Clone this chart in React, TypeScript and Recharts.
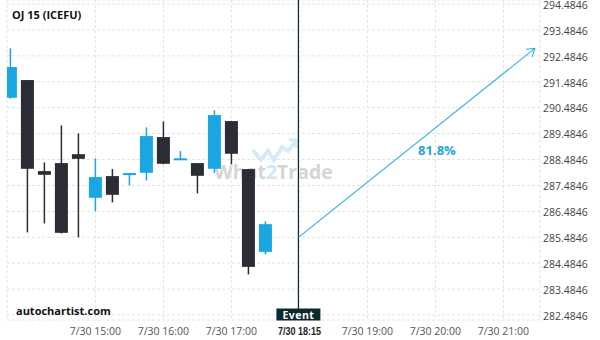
import { ComposedChart, Bar, XAxis, YAxis, CartesianGrid, ReferenceLine, ReferenceDot } from 'recharts';

// candles, 15 min apart, 7/30 13:45 .. 17:30
const times = ['13:45', '14:00', '14:15', '14:30', '14:45', '15:00', '15:15', '15:30', '15:45', '16:00', '16:15', '16:30', '16:45', '17:00', '17:15', '17:30'];
const opens = [290.867, 291.55, 288.037, 288.346, 288.69, 287.006, 287.844, 287.894, 287.971, 289.35, 288.51, 288.346, 288.126, 289.967, 288.114, 284.92];
const highs = [292.775, 291.55, 288.373, 289.8, 289.49, 288.527, 288.114, 287.96, 289.724, 289.956, 288.809, 288.346, 290.38, 289.967, 288.114, 286.095];
const lows = [290.829, 285.67, 286.017, 285.63, 285.48, 286.49, 286.829, 287.485, 287.678, 288.3, 288.5, 287.176, 287.971, 288.296, 284.048, 284.82];
const closes = [292.052, 288.126, 287.894, 285.655, 288.51, 287.805, 287.122, 287.96, 289.388, 288.319, 288.53, 287.855, 290.199, 288.705, 284.342, 285.99];

const tickSlots = [5, 9, 13, 17, 21, 25, 29];
const tickLabels = ['7/30 15:00', '7/30 16:00', '7/30 17:00', '7/30 18:15', '7/30 19:00', '7/30 20:00', '7/30 21:00'];
const yTicks = [282.4846, 283.4846, 284.4846, 285.4846, 286.4846, 287.4846, 288.4846, 289.4846, 290.4846, 291.4846, 292.4846, 293.4846, 294.4846];

const eventSlot = 16.94;
const projStart = { x: eventSlot, y: 285.477 };
const projEnd = { x: 30.85, y: 292.774 };
const probability = '81.8%';
const probAt = { x: 25.09, y: 288.82 };

const BLUE = '#1aa7e1';
const DARK = '#2c2c35';
const EVENT = '#0b2a2e';

const data = times.map((t, i) => ({
  slot: i,
  time: t,
  open: opens[i],
  high: highs[i],
  low: lows[i],
  close: closes[i],
}));

const Candle = (props: any) => {
  const { x, y, width, height, payload } = props;
  const { open, close, high, low } = payload;
  const ppu = height / (high - low);
  const top = y + (high - Math.max(open, close)) * ppu;
  const bot = y + (high - Math.min(open, close)) * ppu;
  const color = close >= open ? BLUE : DARK;
  const cx = x + width / 2;
  return (
    <g>
      <line x1={cx} x2={cx} y1={y} y2={y + height} stroke={color} strokeWidth={1.5} />
      <rect x={x} y={top} width={width} height={Math.max(bot - top, 2)} fill={color} />
    </g>
  );
};

const TimeTick = (props: any) => {
  const { x, y, payload } = props;
  const idx = tickSlots.indexOf(payload.value);
  const isEvent = payload.value === 17;
  if (isEvent) {
    return (
      <text
        x={x}
        y={y + 13}
        textAnchor="middle"
        fontSize={11}
        fontWeight={700}
        fontFamily='"Liberation Sans", Arial, sans-serif'
        fill="#222"
        textLength={43}
        lengthAdjust="spacingAndGlyphs"
      >
        {tickLabels[idx]}
      </text>
    );
  }
  return (
    <text x={x} y={y + 13} textAnchor="middle" fontSize={10.5} fontFamily='"Open Sans", sans-serif' fill="#555">
      {tickLabels[idx]}
    </text>
  );
};

const PriceTick = (props: any) => {
  const { x, y, payload } = props;
  return (
    <text x={x} y={y + 4.8} textAnchor="start" fontSize={10.5} fontFamily='"Open Sans", sans-serif' fill="#444">
      {payload.value.toFixed(4)}
    </text>
  );
};

const EventTag = (props: any) => {
  const vb = props.viewBox;
  const cx = vb.x;
  const bottom = vb.y + vb.height;
  return (
    <g>
      <rect x={cx - 22} y={bottom - 11.5} width={44} height={12} fill={EVENT} />
      <text x={cx} y={bottom - 1.5} textAnchor="middle" fontSize={10.5} fontWeight={700} fill="#fff" fontFamily='"Open Sans", sans-serif' letterSpacing={0.5}>
        Event
      </text>
    </g>
  );
};

const Arrow = (props: any) => {
  const { x1, y1, x2, y2 } = props;
  const ang = Math.atan2(y1 - y2, x1 - x2);
  const len = 9;
  const a1 = ang + 0.58;
  const a2 = ang - 0.58;
  return (
    <g stroke="#2eb0e6" strokeWidth={1.1} fill="none">
      <line x1={x1} y1={y1} x2={x2} y2={y2} />
      <polyline points={`${x2 + len * Math.cos(a1)},${y2 + len * Math.sin(a1)} ${x2},${y2} ${x2 + len * Math.cos(a2)},${y2 + len * Math.sin(a2)}`} />
    </g>
  );
};

const Watermark = () => (
  <svg width={600} height={340} style={{ position: 'absolute', left: 0, top: 0 }}>
    <polyline
      points="253,150 261,160 268,151 274,160 282,147 288,151 296,141"
      fill="none"
      stroke="#d4ebf8"
      strokeWidth={4}
      strokeLinejoin="miter"
    />
    <polyline points="289,140 297,140 296,148" fill="none" stroke="#d4ebf8" strokeWidth={3} />
    <text x={214} y={179} fontSize={19.5} fontWeight={700} fontFamily='"Open Sans", sans-serif' fill="#d5d5d5">
      What<tspan fill="#cde7f6">2</tspan>Trade
    </text>
  </svg>
);

export default function App() {
  return (
    <div style={{ position: 'relative', width: 600, height: 340, background: '#fff', overflow: 'hidden' }}>
      <style>{'body{margin:0}'}</style>
      <Watermark />
      <div style={{ position: 'absolute', left: 0, top: 0 }}>
        <ComposedChart width={600} height={340} data={data} margin={{ top: 0, right: 0, bottom: 0, left: 7 }}>
          <CartesianGrid stroke="#e4e4e4" strokeDasharray="3 2" />
          <XAxis
            type="number"
            dataKey="slot"
            domain={[-0.2, 31.15]}
            allowDataOverflow
            ticks={tickSlots}
            interval={0}
            tick={<TimeTick />}
            axisLine={false}
            tickLine={false}
            tickSize={0}
            height={20}
          />
          <YAxis
            orientation="right"
            type="number"
            domain={[282.2915, 294.639]}
            allowDataOverflow
            ticks={yTicks}
            interval={0}
            axisLine={false}
            tickLine={false}
            tickSize={0}
            tickMargin={3}
            width={60}
            tick={<PriceTick />}
          />
          <Bar dataKey={(d: any) => [d.low, d.high]} barSize={13} shape={<Candle />} isAnimationActive={false} />
          <ReferenceLine x={eventSlot} stroke={EVENT} strokeWidth={1.2} label={EventTag} ifOverflow="visible" />
          <ReferenceLine segment={[projStart, projEnd]} shape={Arrow} ifOverflow="visible" />
          <ReferenceDot
            x={probAt.x}
            y={probAt.y}
            r={0}
            fill="none"
            stroke="none"
            label={{ value: probability, position: 'center', fill: '#1fa6df', fontSize: 13, fontWeight: 700, fontFamily: '"Open Sans", sans-serif' }}
          />
        </ComposedChart>
      </div>
      <div style={{ position: 'absolute', left: 12, top: 7, fontFamily: '"Open Sans", sans-serif', fontWeight: 700, fontSize: 11, color: '#111' }}>
        OJ 15 (ICEFU)
      </div>
      <div style={{ position: 'absolute', left: 16, top: 303, fontFamily: '"Open Sans", sans-serif', fontWeight: 700, fontSize: 11, color: '#111' }}>
        autochartist.com
      </div>
    </div>
  );
}
